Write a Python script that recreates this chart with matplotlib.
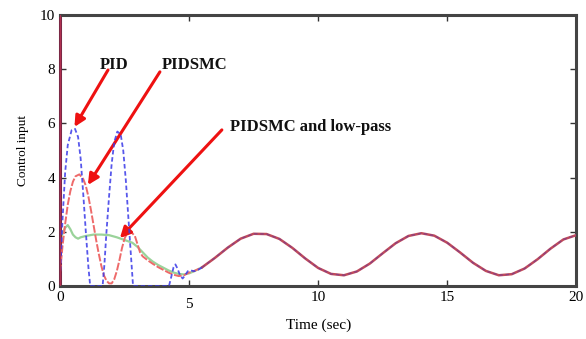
import numpy as np
import matplotlib.pyplot as plt
import matplotlib.transforms as mtransforms

# PID (blue dashed), first 5.5 s
t_pid = [0, 0.1, 0.2, 0.3, 0.45, 0.58, 0.7, 0.8, 0.9, 1.0, 1.1, 1.17, 1.65, 1.72, 1.8, 1.9,
         2.0, 2.1, 2.22, 2.35, 2.45, 2.55, 2.65, 2.75, 2.83, 4.22, 4.3, 4.4, 4.47, 4.55,
         4.65, 4.75, 4.85, 4.95, 5.05, 5.2, 5.35, 5.5]
u_pid = [0.3, 2.5, 4.2, 5.2, 5.75, 5.8, 5.5, 4.7, 3.4, 2.0, 0.7, 0.0, 0.0, 0.8, 2.0, 3.3,
         4.5, 5.3, 5.7, 5.6, 5.0, 3.9, 2.5, 1.1, 0.0, 0.0, 0.3, 0.7, 0.8, 0.65,
         0.4, 0.28, 0.4, 0.55, 0.58, 0.55, 0.6, 0.69]

# PIDSMC (red)
t_smc = [0, 0.1, 0.2, 0.3, 0.4, 0.5, 0.6, 0.75, 0.9, 1.0, 1.1, 1.2, 1.3, 1.4, 1.5, 1.6,
         1.7, 1.8, 1.9, 2.0, 2.1, 2.2, 2.3, 2.4, 2.5, 2.6, 2.75, 2.9, 3.0, 3.1, 3.2,
         3.4, 3.6, 3.8, 4.0, 4.2, 4.4, 4.6, 4.8, 5.0, 5.2, 5.5]
u_smc = [0.5, 1.5, 2.3, 3.0, 3.5, 3.85, 4.05, 4.12, 3.95, 3.7, 3.3, 2.8, 2.25, 1.7, 1.2, 0.75,
         0.4, 0.2, 0.1, 0.1, 0.25, 0.55, 0.95, 1.4, 1.75, 1.95, 2.0, 1.85, 1.55, 1.25, 1.1,
         0.95, 0.82, 0.7, 0.6, 0.5, 0.42, 0.37, 0.4, 0.5, 0.56, 0.69]

# PIDSMC and low-pass (green)
t_lp = [0, 0.1, 0.2, 0.3, 0.4, 0.5, 0.6, 0.7, 0.8, 1.0, 1.3, 1.6, 1.9, 2.2, 2.5, 2.8,
        3.0, 3.2, 3.4, 3.6, 3.8, 4.0, 4.2, 4.4, 4.6, 4.8, 5.0, 5.2, 5.5]
u_lp = [1.6, 1.95, 2.15, 2.25, 2.1, 1.9, 1.8, 1.75, 1.8, 1.85, 1.9, 1.9, 1.88, 1.8, 1.7, 1.6,
        1.45, 1.25, 1.05, 0.9, 0.78, 0.68, 0.58, 0.5, 0.45, 0.43, 0.47, 0.55, 0.69]

# common tail (all three controllers coincide)
t_tail = [5.5, 6.0, 6.5, 7.0, 7.5, 8.0, 8.5, 9.0, 9.5, 10.0, 10.5, 11.0, 11.5, 12.0, 12.5,
          13.0, 13.5, 14.0, 14.5, 15.0, 15.5, 16.0, 16.5, 17.0, 17.5, 18.0, 18.5, 19.0,
          19.5, 20.0]
u_tail = [0.69, 1.04, 1.42, 1.75, 1.93, 1.92, 1.74, 1.41, 1.02, 0.67, 0.45, 0.40, 0.54, 0.83, 1.21,
          1.58, 1.85, 1.95, 1.86, 1.60, 1.24, 0.86, 0.56, 0.40, 0.44, 0.65, 0.99, 1.38,
          1.72, 1.88]

plt.rcParams['font.family'] = 'Liberation Serif'

fig = plt.figure(figsize=(5.86, 3.39), dpi=100)
ax = fig.add_axes([0.1024, 0.156, 0.881, 0.80])

ax.plot(t_lp, u_lp, color='#9ad39a', lw=1.6, zorder=2)
ax.plot(t_smc, u_smc, color='#ee6a6a', lw=1.4, ls=(0, (4, 1)), zorder=3)
ax.plot(t_pid, u_pid, color='#3a3ae8', lw=1.3, ls=(0, (2.5, 1.5)), zorder=4, alpha=0.85)
ax.plot(t_tail, u_tail, color='#c04a5a', lw=1.8, zorder=3)
ax.plot(t_tail, u_tail, color='#6a3a9a', lw=1.0, ls=(0, (2.5, 2)), zorder=4, alpha=0.6)
ax.vlines(0, 0, 10, color='#b03050', lw=1.5, zorder=5)

ax.set_xlim(0, 20)
ax.set_ylim(0, 10)
ax.set_xticks([0, 5, 10, 15, 20])
ax.set_yticks([0, 2, 4, 6, 8, 10])
ax.tick_params(direction='in', top=True, right=True, labelsize=11, length=4, width=1,
               colors='#333333', labelcolor='black')
for s in ax.spines.values():
    s.set_linewidth(2.2)
    s.set_color('#444444')
ax.spines['left'].set_color('#7a2845')

# the "5" label sits a bit lower in the original
lab5 = ax.get_xticklabels()[1]
lab5.set_transform(lab5.get_transform() + mtransforms.ScaledTranslation(0, -7 / 100, fig.dpi_scale_trans))

ax.set_xlabel('Time (sec)', fontsize=11)
ax.xaxis.set_label_coords(0.5, -0.118)
ax.set_ylabel('Control input', fontsize=9.5, labelpad=8)

arrow = dict(arrowstyle='-|>', color='#ee1111', lw=2.2, mutation_scale=16, shrinkA=0, shrinkB=0)
txt = dict(fontsize=12, fontweight='bold', color='#111111', ha='center', va='center')
ax.text(2.1, 8.15, 'PID', **txt)
ax.annotate('', xy=(0.56, 5.87), xytext=(1.86, 7.97), arrowprops=arrow)
ax.text(5.2, 8.15, 'PIDSMC', **txt)
ax.annotate('', xy=(1.08, 3.73), xytext=(3.87, 7.9), arrowprops=arrow)
ax.text(9.7, 5.87, 'PIDSMC and low-pass', **txt)
ax.annotate('', xy=(2.32, 1.77), xytext=(6.27, 5.76), arrowprops=arrow)

fig.savefig('out.png', dpi=100)
